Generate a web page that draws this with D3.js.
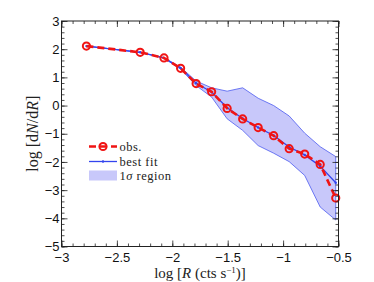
<!DOCTYPE html>
<html><head><meta charset="utf-8">
<script src="https://cdn.jsdelivr.net/npm/d3@7"></script>
<style>
html,body{margin:0;padding:0;background:#fff;}
svg{display:block;}
</style></head>
<body>
<svg id="c" width="374" height="282"></svg>
<script>
const logR     = [-2.775, -2.29, -2.075, -1.925, -1.785, -1.645, -1.505, -1.365, -1.225, -1.085, -0.945, -0.805, -0.665, -0.525];
const obs      = [2.11, 1.89, 1.69, 1.32, 0.78, 0.49, -0.10, -0.475, -0.78, -1.07, -1.53, -1.72, -2.09, -3.28];
const bestFit  = [2.11, 1.89, 1.69, 1.33, 0.79, 0.48, -0.08, -0.46, -0.78, -1.06, -1.47, -1.75, -2.15, -2.74];
const bandUp   = [2.11, 1.89, 1.70, 1.36, 0.87, 0.63, 0.51, 0.63, 0.26, 0.0, -0.37, -0.98, -1.46, -1.81];
const bandLo   = [2.11, 1.89, 1.68, 1.29, 0.71, 0.30, -0.47, -0.88, -1.42, -1.69, -1.99, -2.48, -3.60, -4.06];
const xTicks = [-3, -2.5, -2, -1.5, -1, -0.5];
const yTicks = [-5, -4, -3, -2, -1, 0, 1, 2, 3];
const legendLabels = ["obs.", "best fit", "1σ region"];

const svg = d3.select("#c");
const L = 61.5, R = 338.5, T = 21, B = 246.5;
const x = d3.scaleLinear().domain([-3, -0.5]).range([L, R]);
const y = d3.scaleLinear().domain([-5, 3]).range([B, T]);
const red = "#f01414", blue = "#3344ee";

// band
const rows = logR.map((v, i) => ({x: v, o: obs[i], f: bestFit[i], u: bandUp[i], l: bandLo[i]}));
const bandPts = rows.map(d => [x(d.x), y(d.u)]).concat(rows.slice().reverse().map(d => [x(d.x), y(d.l)]));
svg.append("path").attr("d", d3.line()(bandPts) + "Z")
  .attr("fill", "#c8c8fa").attr("stroke", "#4d5cf0").attr("stroke-width", 0.8);

// best fit
svg.append("path").datum(rows).attr("fill", "none").attr("stroke", blue).attr("stroke-width", 1.3)
  .attr("d", d3.line().x(d => x(d.x)).y(d => y(d.f)));
svg.selectAll(".fd").data(rows).join("circle").attr("cx", d => x(d.x)).attr("cy", d => y(d.f))
  .attr("r", 1.2).attr("fill", blue);

// obs
svg.append("path").datum(rows).attr("fill", "none").attr("stroke", red).attr("stroke-width", 2.6)
  .attr("stroke-dasharray", "7,4")
  .attr("d", d3.line().x(d => x(d.x)).y(d => y(d.o)));
svg.selectAll(".od").data(rows).join("circle").attr("cx", d => x(d.x)).attr("cy", d => y(d.o))
  .attr("r", 3.6).attr("fill", "none").attr("stroke", red).attr("stroke-width", 2);

// axes
const minorX = d3.range(-3, -0.5 + 1e-9, 0.1).map(v => +v.toFixed(2));
const minorY = d3.range(-5, 3 + 1e-9, 0.2).map(v => +v.toFixed(2));
function styleAxis(g) {
  g.select(".domain").remove();
  g.selectAll("line").attr("stroke", "#222").attr("stroke-width", 0.8);
  g.selectAll("text").attr("font-family", "Liberation Sans, Arial, sans-serif").attr("font-size", 13).attr("fill", "#111");
}
svg.append("g").attr("transform", `translate(0,${B})`)
  .call(d3.axisBottom(x).tickValues(xTicks).tickSize(-6).tickPadding(6).tickFormat(d3.format("")))
  .call(styleAxis);
svg.append("g").attr("transform", `translate(0,${B})`)
  .call(d3.axisBottom(x).tickValues(minorX).tickSize(-3).tickFormat("")).call(styleAxis);
svg.append("g").attr("transform", `translate(0,${T})`)
  .call(d3.axisTop(x).tickValues(xTicks).tickSize(-6).tickFormat("")).call(styleAxis);
svg.append("g").attr("transform", `translate(0,${T})`)
  .call(d3.axisTop(x).tickValues(minorX).tickSize(-3).tickFormat("")).call(styleAxis);
svg.append("g").attr("transform", `translate(${L},0)`)
  .call(d3.axisLeft(y).tickValues(yTicks).tickSize(-6).tickPadding(2).tickFormat(d3.format("")))
  .call(styleAxis);
svg.append("g").attr("transform", `translate(${L},0)`)
  .call(d3.axisLeft(y).tickValues(minorY).tickSize(-3).tickFormat("")).call(styleAxis);
svg.append("g").attr("transform", `translate(${R},0)`)
  .call(d3.axisRight(y).tickValues(yTicks).tickSize(-6).tickFormat("")).call(styleAxis);
svg.append("g").attr("transform", `translate(${R},0)`)
  .call(d3.axisRight(y).tickValues(minorY).tickSize(-3).tickFormat("")).call(styleAxis);

svg.append("rect").attr("x", L).attr("y", T).attr("width", R - L).attr("height", B - T)
  .attr("fill", "none").attr("stroke", "#222").attr("stroke-width", 1);

// legend
const serif = "Liberation Serif, Times New Roman, serif";
const lg = svg.append("g");
const lx0 = 89, lx1 = 117, ly = [146.5, 161.5, 176];
lg.append("line").attr("x1", lx0).attr("x2", lx1).attr("y1", ly[0]).attr("y2", ly[0])
  .attr("stroke", red).attr("stroke-width", 2.6).attr("stroke-dasharray", "7,4");
lg.append("circle").attr("cx", (lx0 + lx1) / 2).attr("cy", ly[0]).attr("r", 3.6)
  .attr("fill", "none").attr("stroke", red).attr("stroke-width", 2);
lg.append("line").attr("x1", lx0).attr("x2", lx1).attr("y1", ly[1]).attr("y2", ly[1])
  .attr("stroke", blue).attr("stroke-width", 1.3);
lg.append("circle").attr("cx", (lx0 + lx1) / 2).attr("cy", ly[1]).attr("r", 1.2).attr("fill", blue);
lg.append("rect").attr("x", lx0).attr("y", ly[2] - 5.5).attr("width", lx1 - lx0).attr("height", 10)
  .attr("fill", "#c8c8fa");
legendLabels.forEach((t, i) => {
  const tx = lg.append("text").attr("x", 119.5).attr("y", ly[i] + 4)
    .attr("font-family", serif).attr("font-size", 12.5).attr("letter-spacing", 0.5).attr("fill", "#222");
  if (t.includes("σ")) {
    tx.append("tspan").text("1");
    tx.append("tspan").attr("font-style", "italic").text("σ");
    tx.append("tspan").text(" region");
  } else tx.text(t);
});

// axis titles
const xl = svg.append("text").attr("x", (L + R) / 2).attr("y", 278).attr("text-anchor", "middle")
  .attr("font-family", serif).attr("font-size", 15).attr("fill", "#222");
xl.append("tspan").text("log [");
xl.append("tspan").attr("font-style", "italic").text("R");
xl.append("tspan").text(" (cts s");
xl.append("tspan").attr("font-size", 9).attr("dy", -5).text("−1");
xl.append("tspan").attr("dy", 5).text(")]");

const yl = svg.append("text").attr("transform", `translate(38,${(T + B) / 2}) rotate(-90)`)
  .attr("text-anchor", "middle").attr("font-family", serif).attr("font-size", 16).attr("fill", "#222");
yl.append("tspan").text("log [d");
yl.append("tspan").attr("font-style", "italic").text("N");
yl.append("tspan").text("/d");
yl.append("tspan").attr("font-style", "italic").text("R");
yl.append("tspan").text("]");
</script>
</body></html>
